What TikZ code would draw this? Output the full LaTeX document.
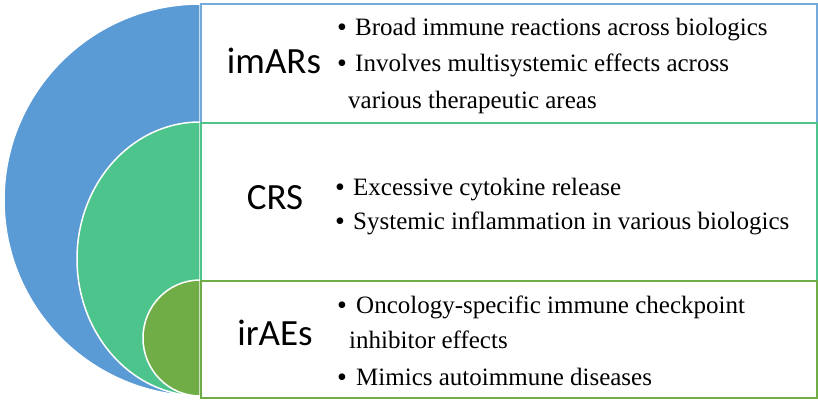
\documentclass[tikz,border=0pt]{standalone}
\usepackage{fontspec}
\setmainfont{Liberation Serif}
\newfontfamily\labelfont{Carlito}
\definecolor{cblue}{HTML}{5B9BD5}
\definecolor{cgreen}{HTML}{4DC48B}
\definecolor{colive}{HTML}{70AD47}
\begin{document}
\begin{tikzpicture}[x=1pt,y=-1pt,
  lobe/.style={draw=white, line width=1.5pt},
  panel/.style={draw, line width=1.5pt, minimum width=616pt, inner sep=0pt, anchor=north west},
  lbl/.style={font=\labelfont\fontsize{37}{40}\selectfont, anchor=base, inner sep=0pt},
  txt/.style={font=\fontsize{25}{28}\selectfont, anchor=base west, inner sep=0pt},
  bul/.style={font=\fontsize{28}{28}\selectfont, anchor=base west, inner sep=0pt}]
\useasboundingbox (0,0) rectangle (818,408);
% nested half-discs
\path[lobe, fill=cblue] (200,4) arc[start angle=-90, end angle=-270, x radius=196, y radius=196] -- cycle;
\path[lobe, fill=cgreen] (200,122) arc[start angle=-90, end angle=-270, x radius=123, y radius=137] -- cycle;
\path[lobe, fill=colive] (200,280) arc[start angle=-90, end angle=-270, x radius=57, y radius=58] -- cycle;
% panels
\node[panel, draw=cblue!85, minimum height=119pt] (p1) at (200,3) {};
\node[panel, draw=cgreen, minimum height=158pt] (p2) at (200,122) {};
\node[panel, draw=colive, minimum height=117pt] (p3) at (200,280) {};
% labels
\node[lbl] (l1) at (274,73) {imARs};
\node[lbl] (l2) at (275,209) {CRS};
\node[lbl] (l3) at (275,345) {irAEs};
% panel 1 text
\node[bul] (b11) at (337,36) {\textbullet};
\node[txt] (t11) at (355,35) {Broad immune reactions across biologics};
\node[bul] (b12) at (337,72.5) {\textbullet};
\node[txt] (t12) at (355,71.5) {Involves multisystemic effects across};
\node[txt] (t13) at (348,108) {various therapeutic areas};
% panel 2 text
\node[bul] (b21) at (335,196) {\textbullet};
\node[txt] (t21) at (353,195) {Excessive cytokine release};
\node[bul] (b22) at (335,230) {\textbullet};
\node[txt] (t22) at (353,229) {Systemic inflammation in various biologics};
% panel 3 text
\node[bul] (b31) at (337,314) {\textbullet};
\node[txt] (t31) at (356,313) {Oncology-specific immune checkpoint};
\node[txt] (t32) at (349,348) {inhibitor effects};
\node[bul] (b33) at (337,386) {\textbullet};
\node[txt] (t33) at (356,385) {Mimics autoimmune diseases};
\end{tikzpicture}
\end{document}
